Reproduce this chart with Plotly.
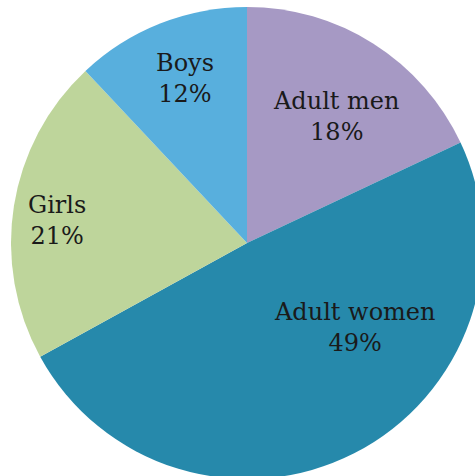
import plotly.graph_objects as go

labels = ["Adult men", "Adult women", "Girls", "Boys"]
values = [18, 49, 21, 12]
colors = ["#A699C4", "#2689AB", "#BED59B", "#58AFDD"]

# label centre positions (paper fraction) for the in-slice texts
label_x = [0.690, 0.729, 0.097, 0.369]
label_y = [0.769, 0.322, 0.548, 0.849]

fig = go.Figure(go.Pie(
    labels=labels,
    values=values,
    sort=False,
    direction="clockwise",
    rotation=0,
    marker=dict(colors=colors, line=dict(width=0)),
    textinfo="none",
    showlegend=False,
    hoverinfo="none",
))

for lab, v, x, y in zip(labels, values, label_x, label_y):
    fig.add_annotation(
        x=x, y=y, xref="paper", yref="paper",
        text=f"{lab}<br>{v}%",
        showarrow=False,
        xanchor="center", yanchor="middle",
        font=dict(family="DejaVu Serif", size=24, color="#1a1a1a"),
    )

fig.update_layout(
    width=483, height=479,
    margin=dict(l=11, r=0, t=7, b=0),
    paper_bgcolor="white",
    plot_bgcolor="white",
)

fig.write_html("out.html", config={"displayModeBar": False},
               post_script="document.body.style.margin='0';document.body.style.overflow='hidden';")
